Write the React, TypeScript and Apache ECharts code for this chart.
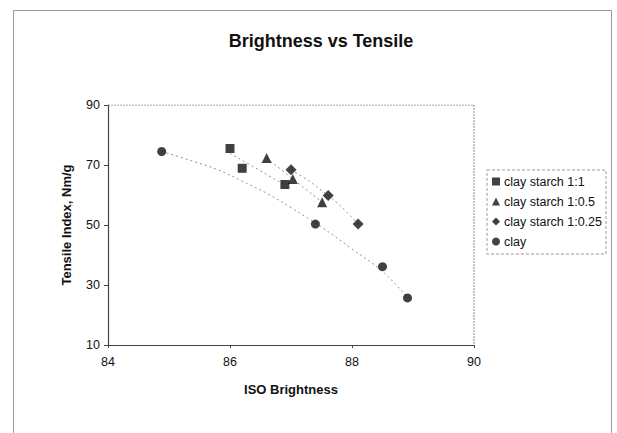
import React, { useEffect, useRef } from "react";
import * as echarts from "echarts";

const seriesNames = ["clay starch 1:1", "clay starch 1:0.5", "clay starch 1:0.25", "clay"];

const brightness11 = [86.0, 86.2, 86.9];
const tensile11 = [75.5, 68.9, 63.5];
const brightness105 = [86.6, 87.03, 87.51];
const tensile105 = [72.3, 65.3, 57.6];
const brightness1025 = [87.0, 87.61, 88.1];
const tensile1025 = [68.4, 59.8, 50.3];
const brightnessClay = [84.88, 87.4, 88.5, 88.91];
const tensileClay = [74.5, 50.3, 36.1, 25.7];

// trendlines
const trend11X = [86.0, 86.9];
const trend11Y = [73.9, 63.3];
const trend105X = [86.6, 87.51];
const trend105Y = [72.3, 57.6];
const trend1025X = [87.0, 87.3, 87.61, 87.85, 88.1];
const trend1025Y = [68.4, 64.6, 59.8, 55.6, 50.3];
const trendClayX = [84.88, 85.4, 85.8, 86.2, 86.6, 87.0, 87.5, 88.0, 88.5, 88.91];
const trendClayY = [74.5, 71.2, 68.4, 64.6, 60.6, 55.8, 49.3, 42.0, 34.5, 25.9];

const xTicks = [84, 86, 88, 90];
const yTicks = [10, 30, 50, 70, 90];

const zip = (a: number[], b: number[]) => a.map((v, i) => [v, b[i]]);

export default function App() {
  const ref = useRef<HTMLDivElement>(null);
  useEffect(() => {
    if (!ref.current) return;
    const chart = echarts.init(ref.current, undefined, { renderer: "svg" });
    const font = "Liberation Sans, Arial, sans-serif";
    const black = "#111111";
    const trendStyle = { color: "#909090", width: 1, type: [2, 3] as any };
    const mk = (name: string, symbol: string, size: number, xs: number[], ys: number[]) => ({
      name,
      type: "scatter",
      symbol,
      symbolSize: size,
      itemStyle: { color: black },
      data: zip(xs, ys),
      z: 3,
    });
    const tr = (name: string, xs: number[], ys: number[]) => ({
      name,
      type: "line",
      smooth: 0.4,
      showSymbol: false,
      symbol: "none",
      lineStyle: trendStyle,
      data: zip(xs, ys),
      z: 2,
    });
    chart.setOption({
      animation: false,
      backgroundColor: "#ffffff",
      title: {
        text: "Brightness vs Tensile",
        left: 316,
        top: 27,
        textAlign: "center",
        textStyle: { fontFamily: font, fontSize: 18, fontWeight: "bold", color: black },
      },
      graphic: [
        {
          type: "rect",
          shape: { x: 13.5, y: 10.5, width: 598, height: 440 },
          style: { fill: "none", stroke: "#9a9a9a", lineWidth: 1 },
          silent: true,
        },
      ],
      legend: {
        orient: "vertical",
        left: 487,
        top: 170,
        data: [
          { name: seriesNames[0], icon: "rect" },
          { name: seriesNames[1], icon: "triangle" },
          { name: seriesNames[2], icon: "diamond" },
          { name: seriesNames[3], icon: "circle" },
        ],
        itemWidth: 8,
        itemHeight: 8,
        itemGap: 7,
        padding: [5, 4, 6, 5],
        borderColor: "#9a9a9a",
        borderWidth: 1,
        borderType: [3, 2],
        textStyle: { fontFamily: font, fontSize: 12.5, color: black, padding: [0, 0, 0, -1] },
        selectedMode: false,
      },
      grid: { left: 108, right: 143, top: 105, bottom: 88, show: false },
      xAxis: {
        type: "value",
        min: xTicks[0],
        max: xTicks[xTicks.length - 1],
        interval: 2,
        name: "ISO Brightness",
        nameLocation: "middle",
        nameGap: 38,
        nameTextStyle: { fontFamily: font, fontSize: 13, fontWeight: "bold", color: black },
        axisLine: { show: true, lineStyle: { color: "#444", width: 1.2 } },
        axisTick: { show: true, length: 3, lineStyle: { color: "#444" } },
        axisLabel: { fontFamily: font, fontSize: 12.5, color: black, margin: 10 },
        splitLine: { show: false },
      },
      yAxis: {
        type: "value",
        min: yTicks[0],
        max: yTicks[yTicks.length - 1],
        interval: 20,
        name: "Tensile Index, Nm/g",
        nameLocation: "middle",
        nameGap: 35,
        nameTextStyle: { fontFamily: font, fontSize: 13, fontWeight: "bold", color: black },
        axisLine: { show: true, lineStyle: { color: "#444", width: 1.2 } },
        axisTick: { show: true, length: 4, lineStyle: { color: "#444" } },
        axisLabel: { fontFamily: font, fontSize: 12.5, color: black, margin: 8 },
        splitLine: { show: false },
      },
      series: [
        tr("trend 1:1", trend11X, trend11Y),
        tr("trend 1:0.5", trend105X, trend105Y),
        tr("trend 1:0.25", trend1025X, trend1025Y),
        tr("trend clay", trendClayX, trendClayY),
        mk(seriesNames[0], "rect", 9, brightness11, tensile11),
        mk(seriesNames[1], "triangle", 10, brightness105, tensile105),
        mk(seriesNames[2], "diamond", 11, brightness1025, tensile1025),
        mk(seriesNames[3], "circle", 9, brightnessClay, tensileClay),
        {
          name: "frame",
          type: "line",
          symbol: "none",
          silent: true,
          lineStyle: { color: "#8a8a8a", width: 1, type: [2, 1] as any },
          data: [
            [xTicks[0], yTicks[yTicks.length - 1]],
            [xTicks[xTicks.length - 1], yTicks[yTicks.length - 1]],
            [xTicks[xTicks.length - 1], yTicks[0]],
          ],
          z: 1,
        },
      ],
    });
    return () => chart.dispose();
  }, []);
  return (
    <div
      ref={ref}
      style={{ position: "absolute", left: 0, top: 0, width: 617, height: 433, overflow: "hidden" }}
    />
  );
}
